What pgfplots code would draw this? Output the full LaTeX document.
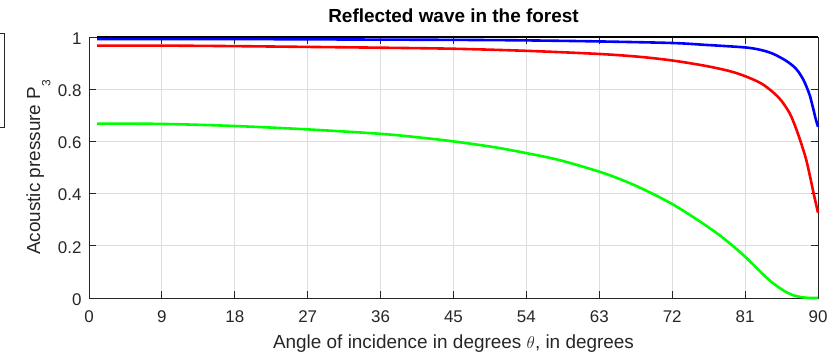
\documentclass[border=0pt]{standalone}
\usepackage{pgfplots}
\pgfplotsset{compat=1.18}
\usepackage{fontspec}
\setmainfont{Liberation Sans}
\definecolor{axgray}{RGB}{38,38,38}
\definecolor{gridgray}{RGB}{222,222,222}
\pgfplotstableread{
x y
1 0.668
9 0.667
18 0.659
27 0.646
36 0.629
40.5 0.616
45 0.600
50 0.578
54 0.555
58 0.529
63 0.484
66 0.450
68 0.423
70 0.393
72 0.360
74 0.322
76 0.281
78 0.237
80 0.186
81 0.158
82 0.128
83 0.097
84 0.068
85 0.044
86 0.024
87 0.010
88 0.003
89 0.000
90 0.000
}\greendata
\pgfplotstableread{
x y
1 0.967
9 0.967
18 0.965
27 0.962
36 0.959
45 0.955
54 0.947
63 0.935
68 0.924
72 0.910
76 0.890
79 0.870
81 0.850
83 0.822
84.5 0.787
85.5 0.755
86.5 0.708
87.2 0.657
87.8 0.604
88.5 0.535
89 0.468
89.5 0.395
90 0.327
}\reddata
\pgfplotstableread{
x y
1 0.992
18 0.992
27 0.991
36 0.990
45 0.989
54 0.987
63 0.983
72 0.977
76 0.970
81 0.960
83 0.950
84.5 0.935
86 0.910
87 0.887
87.6 0.866
88.2 0.836
88.6 0.808
89 0.775
89.4 0.727
89.7 0.688
90 0.656
}\bluedata
\begin{document}
\begin{tikzpicture}
\useasboundingbox (-89bp,-54bp) rectangle (738bp,298bp);
\draw[color=axgray, line width=0.8bp] (-99bp,171bp) rectangle (-85bp,265bp);
\begin{axis}[
  anchor=south west,
  scale only axis, width=729bp, height=261bp,
  xmin=0, xmax=90, ymin=0, ymax=1,
  clip=false,
  xtick={0,9,18,27,36,45,54,63,72,81,90},
  ytick={0,0.2,0.4,0.6,0.8,1},
  grid=major,
  major grid style={color=gridgray, line width=0.8bp},
  axis line style={color=axgray, line width=0.8bp},
  tick style={color=axgray, line width=0.8bp},
  tick align=inside, major tick length=7bp,
  /pgf/number format/assume math mode=true,
  ticklabel style={font=\fontsize{17}{19}\selectfont, text=axgray},
  x tick label style={anchor=base, yshift=-24.3bp},
  y tick label style={anchor=east, inner sep=0pt, xshift=-7.3bp, yshift=-1.5bp},
  title={\textbf{Reflected wave in the forest}},
  title style={font=\fontsize{19}{21}\selectfont, at={(axis description cs:0.5,1)}, anchor=base, yshift=8.7bp, inner sep=0pt},
  xlabel={Angle of incidence in degrees $\theta$, in degrees},
  xlabel style={font=\fontsize{19}{21}\selectfont, text=axgray, at={(axis description cs:0.5,-0.1927)}, anchor=base, inner sep=0pt},
  ylabel={Acoustic pressure P\raisebox{-0.55em}{\fontsize{12}{12}\selectfont 3}},
  ylabel style={font=\fontsize{19}{21}\selectfont, text=axgray, at={(axis description cs:-0.0672,0.5)}, anchor=base, inner sep=0pt},
]
\addplot[black, line width=2.6bp] coordinates {(1,1) (90,1)};
\addplot[blue, line width=2.6bp, smooth] table {\bluedata};
\addplot[red, line width=2.6bp, smooth] table {\reddata};
\addplot[green, line width=2.6bp, smooth] table {\greendata};
\end{axis}
\end{tikzpicture}
\end{document}
